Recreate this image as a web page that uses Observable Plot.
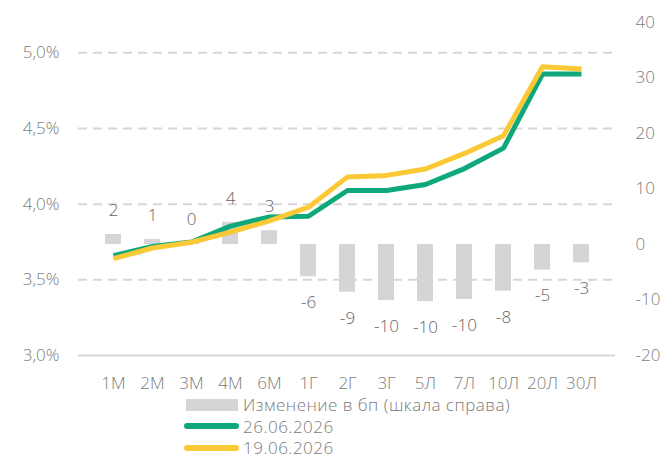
<!DOCTYPE html>
<html>
<head>
<meta charset="utf-8">
<script src="https://cdn.jsdelivr.net/npm/d3@7"></script>
<script src="https://cdn.jsdelivr.net/npm/@observablehq/plot@0.6"></script>
<style>
  body { margin: 0; background: #fff; font-family: "Open Sans", Roboto, sans-serif; font-weight: 300; overflow: hidden; position: relative; width: 667px; height: 460px; }
  #chart svg { display: block; }
  .legend { position: absolute; left: 184px; top: 396px; color: #7a7a7a; font-size: 17px; letter-spacing: 0.5px; }
  .legend .row { display: flex; align-items: center; height: 17px; margin-bottom: 4.5px; white-space: nowrap; }
  .legend .row:last-child { margin-bottom: 0; }
  .legend .row span.t { line-height: 17px; }
  .legend .sw { width: 55px; margin-right: 4px; display: inline-block; }
</style>
</head>
<body>
<div id="chart"></div>
<div class="legend" id="legend"></div>
<script>
const categories = ["1М","2М","3М","4М","6М","1Г","2Г","3Г","5Л","7Л","10Л","20Л","30Л"];
const series26 = [3.66, 3.72, 3.75, 3.855, 3.915, 3.92, 4.09, 4.09, 4.13, 4.235, 4.37, 4.86, 4.86];
const series19 = [3.64, 3.71, 3.748, 3.815, 3.89, 3.98, 4.18, 4.19, 4.232, 4.335, 4.452, 4.908, 4.893];
const changeBp = [1.8, 0.9, 0.2, 4.0, 2.5, -5.8, -8.6, -10.1, -10.3, -9.9, -8.4, -4.6, -3.3];
const leftTicks = [3.0, 3.5, 4.0, 4.5, 5.0];
const rightTicks = [-20, -10, 0, 10, 20, 30, 40];
const legendLabels = ["Изменение в бп (шкала справа)", "26.06.2026", "19.06.2026"];

const green = "#0fa87c";
const yellow = "#fbc935";
const barGray = "#d5d5d7";
const textGray = "#7d7d7d";
const FONT = "'Open Sans', Roboto, sans-serif";

// right (bp) scale mapped onto the left (%) scale
const yMin = 3.0, yMax = 5.2, bpMin = -20, bpMax = 40;
const toLeft = bp => yMin + (bp - bpMin) / (bpMax - bpMin) * (yMax - yMin);
const toBp = v => bpMin + (v - yMin) / (yMax - yMin) * (bpMax - bpMin);

const rows = categories.map((c, i) => ({cat: c, a: series26[i], b: series19[i], chg: changeBp[i]}));

const chart = Plot.plot({
  width: 667,
  height: 396,
  marginLeft: 78,
  marginRight: 52,
  marginTop: 22,
  marginBottom: 41,
  style: {fontFamily: FONT, fontSize: "17px", fontWeight: 300, color: textGray, background: "#fff"},
  x: {domain: categories, padding: 0.6, align: 0.5, label: null},
  y: {domain: [yMin, yMax], label: null},
  marks: [
    Plot.ruleY(leftTicks.filter(t => t > yMin), {stroke: "#d6d6d6", strokeWidth: 2, strokeDasharray: "9,6"}),
    Plot.ruleY([yMin], {stroke: "#d6d6d6", strokeWidth: 2}),
    Plot.axisY(leftTicks, {anchor: "left", label: null, tickSize: 0, tickPadding: 19, tickFormat: v => v.toFixed(1).replace(".", ",") + "%", fill: textGray, fontSize: 17}),
    Plot.axisY(rightTicks.map(toLeft), {anchor: "right", label: null, tickSize: 0, tickPadding: 20, tickFormat: v => String(Math.round(toBp(v))), fill: textGray, fontSize: 17, textAnchor: "start"}),
    Plot.axisX({label: null, tickSize: 0, tickPadding: 21, fill: textGray, fontSize: 17}),
    Plot.barY(rows, {x: "cat", y1: () => toLeft(0), y2: d => toLeft(d.chg), fill: barGray}),
    Plot.text(rows.filter(d => d.chg >= 0), {x: "cat", y: d => toLeft(d.chg), text: d => String(Math.round(d.chg)), dy: -24, fill: "#666", fontSize: 17}),
    Plot.text(rows.filter(d => d.chg < 0), {x: "cat", y: d => toLeft(d.chg), text: d => String(Math.round(d.chg)), dy: 26, fill: "#666", fontSize: 17}),
    Plot.line(rows, {x: "cat", y: "a", stroke: green, strokeWidth: 5, strokeLinejoin: "round", strokeLinecap: "butt"}),
    Plot.line(rows, {x: "cat", y: "b", stroke: yellow, strokeWidth: 5, strokeLinejoin: "round", strokeLinecap: "butt"})
  ]
});
document.getElementById("chart").appendChild(chart);

const legend = document.getElementById("legend");
const swatches = [
  `<span class="sw" style="height:12px;background:${barGray};width:52px;margin-left:2px;margin-right:5px"></span>`,
  `<span class="sw" style="height:6px;border-radius:3px;background:${green}"></span>`,
  `<span class="sw" style="height:6px;border-radius:3px;background:${yellow}"></span>`
];
legend.innerHTML = legendLabels.map((l, i) => `<div class="row">${swatches[i]}<span class="t">${l}</span></div>`).join("");
</script>
</body>
</html>
